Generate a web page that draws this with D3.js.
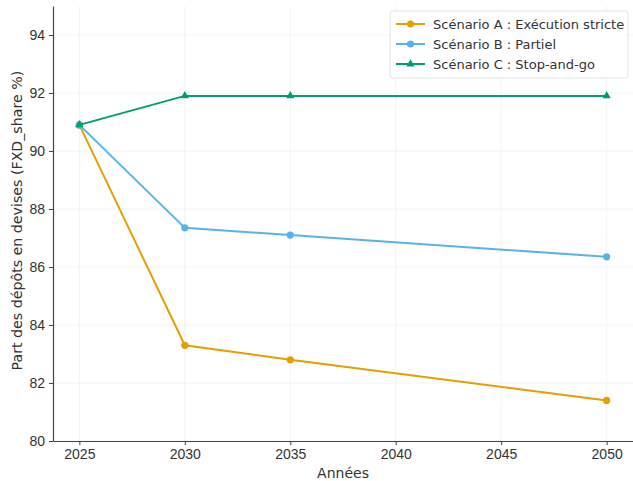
<!DOCTYPE html>
<html>
<head>
<meta charset="utf-8">
<script src="https://cdn.jsdelivr.net/npm/d3@7"></script>
<style>
  html, body { margin: 0; padding: 0; background: #fff; }
  svg { display: block; font-family: "DejaVu Sans", sans-serif; }
</style>
</head>
<body>
<svg id="chart" width="633" height="481"></svg>
<script>
// Years and scenario trajectories of the FX deposit share (%)
const years = [2025, 2030, 2035, 2050];
const scenarioA = [90.9, 83.3, 82.8, 81.4];
const scenarioB = [90.9, 87.35, 87.1, 86.35];
const scenarioC = [90.9, 91.9, 91.9, 91.9];
const seriesNames = ["Scénario A : Exécution stricte", "Scénario B : Partiel", "Scénario C : Stop-and-go"];
const seriesColors = ["#E69F00", "#56B4E9", "#009E73"];
const seriesMarkers = ["circle", "circle", "triangle"];
const xTicks = [2025, 2030, 2035, 2040, 2045, 2050];
const yTicks = [80, 82, 84, 86, 88, 90, 92, 94];

const series = [scenarioA, scenarioB, scenarioC].map((vals, i) => ({
  name: seriesNames[i], color: seriesColors[i], marker: seriesMarkers[i],
  points: years.map((y, j) => ({ year: y, value: vals[j] }))
}));

const svg = d3.select("#chart");
const margin = { left: 53, right: 0, top: 6, bottom: 40 };
const W = 633, H = 481;

const x = d3.scaleLinear().domain([2023.75, 2051.25]).range([margin.left, W - margin.right]);
const y = d3.scaleLinear().domain([80, 95]).range([H - margin.bottom, margin.top]);

// faint grid
const grid = svg.append("g");
grid.selectAll("line.gx").data(xTicks).join("line")
  .attr("x1", d => x(d)).attr("x2", d => x(d))
  .attr("y1", y(80)).attr("y2", y(95))
  .attr("stroke", "#f4f4f4").attr("stroke-width", 1);
grid.selectAll("line.gy").data(yTicks).join("line")
  .attr("x1", x(2023.75)).attr("x2", x(2051.25))
  .attr("y1", d => y(d)).attr("y2", d => y(d))
  .attr("stroke", "#f4f4f4").attr("stroke-width", 1);

// axes
const xAxis = svg.append("g")
  .attr("transform", `translate(0,${y(80)})`)
  .call(d3.axisBottom(x).tickValues(xTicks).tickFormat(d3.format("d")).tickSize(4).tickSizeOuter(0).tickPadding(4));
const yAxis = svg.append("g")
  .attr("transform", `translate(${x(2023.75)},0)`)
  .call(d3.axisLeft(y).tickValues(yTicks).tickSize(4).tickSizeOuter(0).tickPadding(4));
[xAxis, yAxis].forEach(a => {
  a.select(".domain").attr("stroke", "#444").attr("stroke-width", 1.2);
  a.selectAll(".tick line").attr("stroke", "#444");
  a.selectAll(".tick text").attr("fill", "#333").style("font-size", "14px");
});

// axis titles
svg.append("text")
  .attr("x", x(2037.5)).attr("y", 478)
  .attr("text-anchor", "middle").attr("fill", "#333").style("font-size", "14px")
  .text("Années");
svg.append("text")
  .attr("transform", `translate(22,${y(87.6)}) rotate(-90)`)
  .attr("text-anchor", "middle").attr("fill", "#333").style("font-size", "14.2px")
  .text("Part des dépôts en devises (FXD_share %)");

// lines and markers
const line = d3.line().x(d => x(d.year)).y(d => y(d.value));
const tri = d3.symbol().type(d3.symbolTriangle).size(30);
series.forEach(s => {
  svg.append("path").datum(s.points)
    .attr("d", line).attr("fill", "none")
    .attr("stroke", s.color).attr("stroke-width", 2);
  const g = svg.append("g");
  if (s.marker === "circle") {
    g.selectAll("circle").data(s.points).join("circle")
      .attr("cx", d => x(d.year)).attr("cy", d => y(d.value)).attr("r", 3.6)
      .attr("fill", s.color);
  } else {
    g.selectAll("path").data(s.points).join("path")
      .attr("d", tri)
      .attr("transform", d => `translate(${x(d.year)},${y(d.value)})`)
      .attr("fill", s.color);
  }
});

// legend
const legend = svg.append("g");
legend.append("rect")
  .attr("x", 390).attr("y", 11).attr("width", 238).attr("height", 67)
  .attr("rx", 3).attr("fill", "#fff").attr("fill-opacity", 0.85)
  .attr("stroke", "#e3e3e3");
series.forEach((s, i) => {
  const ly = 24 + i * 20;
  legend.append("line")
    .attr("x1", 396).attr("x2", 425).attr("y1", ly).attr("y2", ly)
    .attr("stroke", s.color).attr("stroke-width", 2);
  if (s.marker === "circle") {
    legend.append("circle").attr("cx", 410.5).attr("cy", ly).attr("r", 3.6).attr("fill", s.color);
  } else {
    legend.append("path").attr("d", tri).attr("transform", `translate(410.5,${ly})`).attr("fill", s.color);
  }
  legend.append("text")
    .attr("x", 433).attr("y", ly + 4.5)
    .attr("fill", "#333").style("font-size", "13px")
    .text(s.name);
});
</script>
</body>
</html>
